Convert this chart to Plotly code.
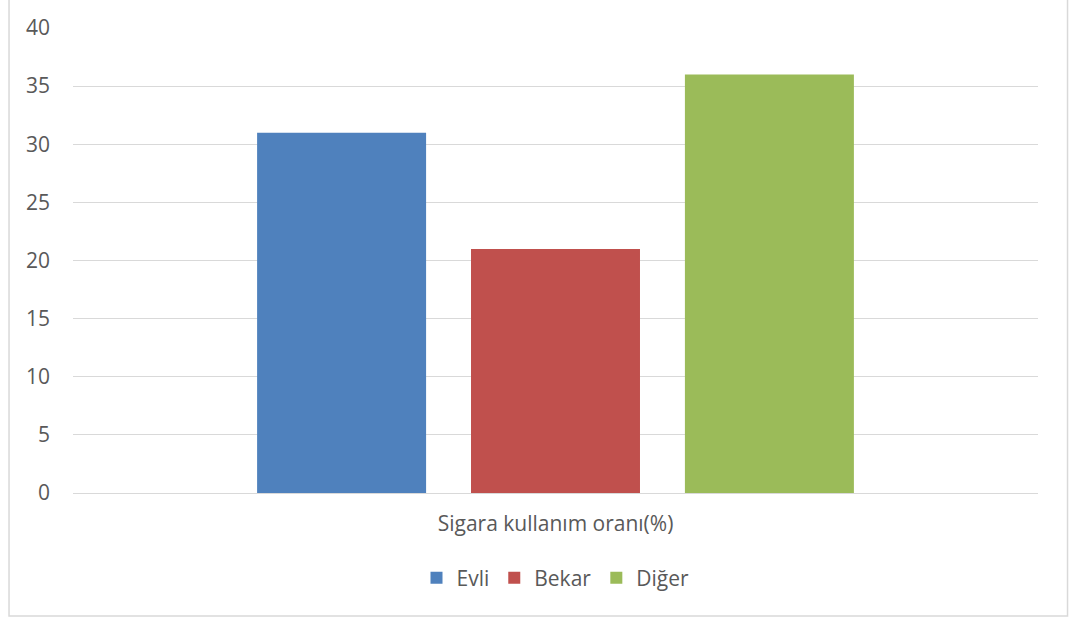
import plotly.graph_objects as go

category = ["Sigara kullanım oranı(%)"]
series_names = ["Evli", "Bekar", "Diğer"]
series_values = [31, 21, 36]
series_colors = ["#4F81BD", "#C0504D", "#9BBB59"]
y_ticks = [0, 5, 10, 15, 20, 25, 30, 35, 40]

fig = go.Figure()
for name, val, col in zip(series_names, series_values, series_colors):
    fig.add_trace(go.Bar(name=name, x=category, y=[val], marker=dict(color=col, line=dict(width=0))))

font_family = "Open Sans, Liberation Sans, sans-serif"

fig.update_layout(
    width=1077, height=619,
    margin=dict(l=73, r=39, t=28, b=126),
    paper_bgcolor="white", plot_bgcolor="white",
    barmode="group", bargap=0.335, bargroupgap=0.21,
    font=dict(family=font_family, size=21, color="#595959"),
    showlegend=True,
    legend=dict(orientation="h", x=0.5, xanchor="center", y=-0.183, yanchor="middle",
                font=dict(size=21, color="#595959"), itemwidth=30, traceorder="normal"),
    xaxis=dict(showgrid=False, showline=False, ticks="", ticklabelstandoff=16,
               tickfont=dict(size=21, color="#595959")),
    yaxis=dict(range=[0, 40], tickvals=y_ticks, showgrid=True, gridcolor="#d9d9d9", gridwidth=1,
               zeroline=True, zerolinecolor="#d9d9d9", zerolinewidth=1,
               showline=False, ticks="", ticklabelstandoff=22,
               tickfont=dict(size=21, color="#595959")),
    shapes=[dict(type="rect", xref="paper", yref="paper",
                 x0=-0.0663, x1=1.0306, y0=-0.2645, y1=1.07,
                 line=dict(color="#d9d9d9", width=1.5), fillcolor="rgba(0,0,0,0)", layer="below")],
)

fig.write_html("out.html")
